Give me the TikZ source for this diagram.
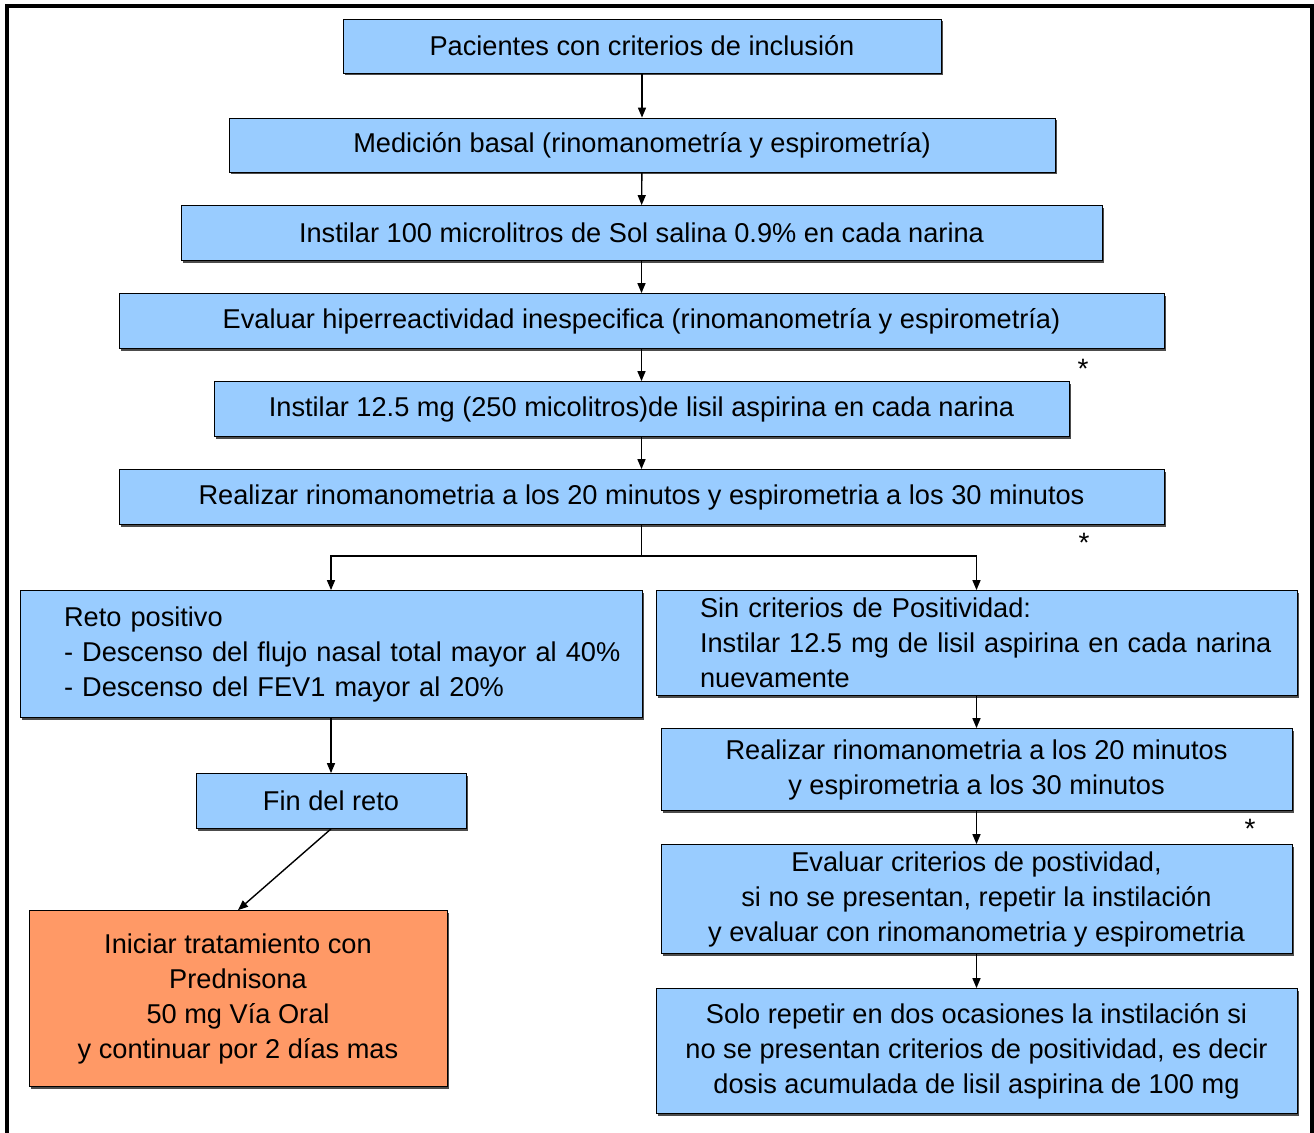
\documentclass[tikz,border=0pt]{standalone}
\usepackage{fontspec}
\setmainfont{Liberation Sans}
\usetikzlibrary{arrows.meta,shadows}
\definecolor{boxblue}{HTML}{99CCFF}
\definecolor{boxorange}{HTML}{FF9966}
\tikzset{
	box/.style={draw=black, thin, fill=boxblue, inner sep=0pt, align=center,
		font=\fontsize{13.6}{17.5}\selectfont,
		drop shadow={shadow xshift=1pt, shadow yshift=-1pt, fill=black!70, opacity=1}},
	leftbox/.style={box, align=left, text width=#1, execute at begin node={\leftskip=22pt}},
	arr/.style={-{Triangle[length=5pt,width=4pt]}, black, line width=0.7pt},
	star/.style={font=\fontsize{14}{14}\selectfont}
}
\begin{document}
\begin{tikzpicture}[x=0.5pt, y=-0.5pt]
		\useasboundingbox (0,0) rectangle (1314,1132);
		\draw[black, line width=2pt] (7,1150) -- (7,6) -- (1311.5,6) -- (1311.5,1150);
		% main column
		\node[box, minimum width=299pt, minimum height=27pt] (pac) at (642,46) {Pacientes con criterios de inclusi\'on};
		\node[box, minimum width=413pt, minimum height=27pt] (med) at (642,145) {Medici\'on basal (rinomanometr\'ia y espirometr\'ia)};
		\node[box, minimum width=460.5pt, minimum height=27.5pt] (sal) at (641.5,233) {Instilar 100 microlitros de Sol salina 0.9\% en cada narina};
		\node[box, minimum width=522.5pt, minimum height=27.5pt] (hip) at (641.5,321) {Evaluar hiperreactividad inespecifica (rinomanometr\'ia y espirometr\'ia)};
		\node[box, minimum width=427.5pt, minimum height=27.5pt] (lis) at (641.5,409) {Instilar 12.5 mg (250 micolitros)de lisil aspirina en cada narina};
		\node[box, minimum width=522.5pt, minimum height=27.5pt] (rea) at (641.5,497) {Realizar rinomanometria a los 20 minutos y espirometria a los 30 minutos};
		% left branch
		\node[leftbox=311pt, minimum height=63.5pt] (pos) at (331,654) {Reto positivo\\- Descenso del flujo nasal total mayor al 40\%\\- Descenso del FEV1 mayor al 20\%};
		\node[box, minimum width=135pt, minimum height=27.5pt] (fin) at (331,801) {Fin del reto};
		\node[box, fill=boxorange, minimum width=209pt, minimum height=88pt] (ini) at (238,998.5) {Iniciar tratamiento con\\Prednisona\\50 mg V\'ia Oral\\y continuar por 2 d\'ias mas};
		% right branch
		\node[leftbox=320.5pt, minimum height=52.5pt] (sin) at (976.5,643) {Sin criterios de Positividad:\\Instilar 12.5 mg de lisil aspirina en cada narina\\nuevamente};
		\node[box, minimum width=315.5pt, minimum height=41pt] (rea2) at (976.5,769.5) {Realizar rinomanometria a los 20 minutos\\y espirometria a los 30 minutos};
		\node[box, minimum width=315.5pt, minimum height=54.5pt] (cri) at (976.5,899) {Evaluar criterios de postividad,\\si no se presentan, repetir la instilaci\'on\\y evaluar con rinomanometria y espirometria};
		\node[box, minimum width=320.5pt, minimum height=62.5pt] (rep) at (976.5,1051) {Solo repetir en dos ocasiones la instilaci\'on si\\no se presentan criterios de positividad, es decir\\dosis acumulada de lisil aspirina de 100 mg};
		% asterisks
		\node[star] (s1) at (1083,369) {*};
		\node[star] (s2) at (1084,543) {*};
		\node[star] (s3) at (1250,829) {*};
		% connectors
		\draw[arr] (pac) -- (med);
		\draw[arr] (med) -- (sal);
		\draw[arr] (sal) -- (hip);
		\draw[arr] (hip) -- (lis);
		\draw[arr] (lis) -- (rea);
		\coordinate (split) at (641.5,556);
		\draw[black, line width=0.7pt] (rea.south) -- (split);
		\draw[arr] (split) -| (pos.north);
		\draw[arr] (split) -| (sin.north);
		\draw[arr] (pos) -- (fin);
		\draw[arr] (fin.south) -- (ini.north);
		\draw[arr] (sin) -- (rea2);
		\draw[arr] (rea2) -- (cri);
		\draw[arr] (cri) -- (rep);
\end{tikzpicture}
\end{document}
